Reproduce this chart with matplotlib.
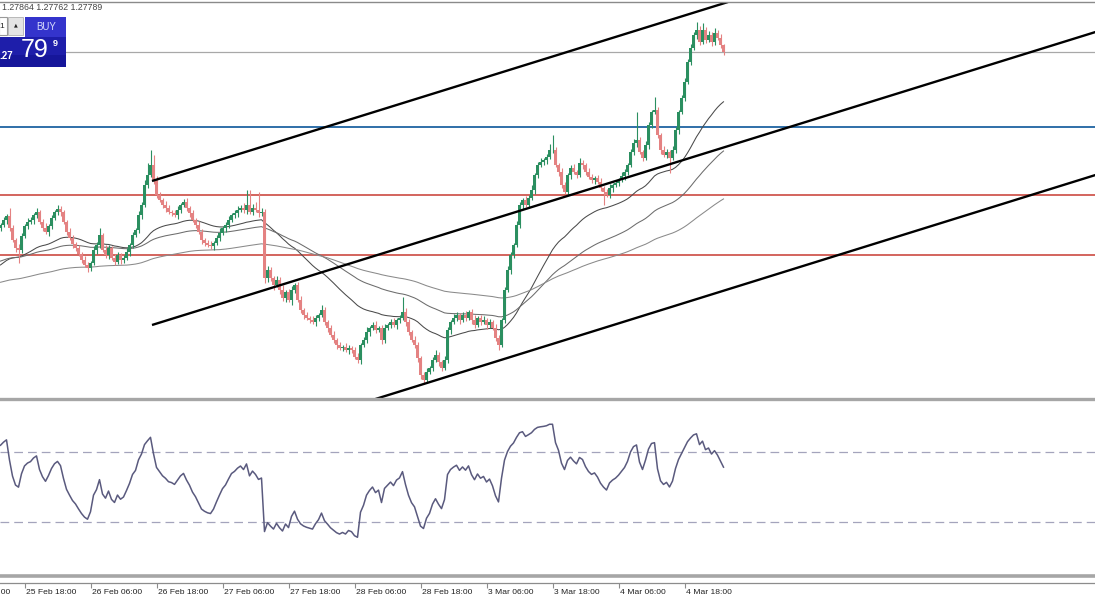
import numpy as np
import matplotlib
matplotlib.use("Agg")
import matplotlib.pyplot as plt
from matplotlib.patches import Rectangle
from matplotlib.lines import Line2D

plt.rcParams['font.family'] = ['Liberation Sans', 'DejaVu Sans']

W, H = 1095, 600

# closes in pips (price * 10000), one per bar
closes_pips = [
    12606, 12611, 12615, 12603, 12591, 12583, 12581, 12595, 12605, 12609,
    12611, 12616, 12619, 12609, 12603, 12599, 12605, 12613, 12619, 12622,
    12619, 12609, 12599, 12593, 12587, 12583, 12577, 12571, 12566, 12563,
    12568, 12581, 12586, 12596, 12581, 12576, 12583, 12573, 12569, 12576,
    12571, 12573, 12579, 12586, 12596, 12601, 12616, 12626, 12646, 12656,
    12666, 12651, 12636, 12631, 12626, 12623, 12619, 12618, 12616, 12621,
    12626, 12629, 12623, 12618, 12611, 12606, 12599, 12591, 12588, 12586,
    12585, 12588, 12593, 12598, 12603, 12606, 12611, 12616, 12618, 12621,
    12623, 12621, 12626, 12619, 12623, 12621, 12618, 12619, 12553, 12561,
    12553, 12546, 12551, 12541, 12533, 12539, 12531, 12541, 12546, 12531,
    12521, 12516, 12513, 12511, 12509, 12513, 12516, 12521, 12509, 12503,
    12496, 12491, 12486, 12483, 12484, 12481, 12483, 12481, 12474, 12471,
    12486, 12491, 12499, 12503, 12506, 12501, 12503, 12491, 12503, 12506,
    12509, 12506, 12511, 12513, 12519, 12509, 12499, 12491, 12486, 12473,
    12456, 12451, 12459, 12463, 12471, 12476, 12469, 12463, 12471, 12501,
    12509, 12513, 12516, 12511, 12516, 12513, 12519, 12511, 12506, 12513,
    12509, 12511, 12506, 12509, 12503, 12493, 12486, 12511, 12541, 12561,
    12576, 12586, 12606, 12626, 12631, 12626, 12633, 12641, 12656, 12666,
    12669, 12671, 12674, 12681, 12681, 12666, 12659, 12646, 12639, 12656,
    12663, 12659, 12656, 12668, 12666, 12659, 12654, 12651, 12653, 12649,
    12643, 12639, 12636, 12643, 12646, 12648, 12651, 12655, 12659, 12666,
    12679, 12688, 12691, 12679, 12673, 12686, 12706, 12719, 12721, 12696,
    12681, 12676, 12679, 12673, 12681, 12701, 12719, 12733, 12749, 12769,
    12783, 12796, 12801, 12789, 12801, 12791, 12796, 12789, 12798, 12793,
    12786, 12779,
]
first_open = 12603

# wick lengths above / below the body, in pips
wick_up = [
    2, 3, 2, 8, 3, 2, 4, 3, 2, 4,
    3, 2, 4, 2, 3, 5, 2, 3, 2, 4,
    3, 2, 2, 4, 3, 2, 3, 2, 4, 3,
    2, 4, 3, 7, 2, 5, 3, 2, 4, 3,
    2, 3, 4, 2, 3, 2, 4, 3, 5, 12,
    15, 10, 4, 3, 2, 4, 3, 2, 3, 4,
    2, 3, 4, 2, 3, 2, 4, 3, 2, 3,
    4, 2, 3, 5, 2, 3, 4, 2, 3, 4,
    3, 5, 15, 15, 4, 6, 18, 4, 3, 4,
    3, 2, 4, 3, 5, 2, 3, 4, 2, 3,
    4, 2, 3, 2, 4, 3, 2, 5, 3, 2,
    3, 4, 2, 3, 2, 4, 3, 2, 3, 4,
    2, 3, 5, 2, 3, 4, 2, 3, 4, 2,
    3, 4, 2, 3, 15, 4, 3, 2, 4, 3,
    2, 3, 4, 2, 3, 5, 3, 2, 4, 3,
    2, 4, 3, 2, 3, 4, 2, 3, 5, 2,
    3, 4, 2, 3, 2, 4, 3, 2, 3, 4,
    3, 2, 4, 3, 2, 4, 3, 5, 2, 3,
    4, 2, 3, 6, 15, 3, 2, 4, 3, 2,
    3, 4, 2, 5, 3, 2, 4, 3, 2, 3,
    4, 2, 3, 4, 2, 3, 2, 4, 3, 2,
    3, 4, 28, 3, 2, 4, 3, 2, 13, 3,
    2, 4, 3, 2, 4, 3, 2, 3, 4, 3,
    4, 3, 8, 4, 7, 3, 4, 3, 5, 3,
    4, 1,
]
wick_dn = [
    3, 2, 4, 3, 2, 4, 13, 3, 2, 3,
    2, 4, 3, 2, 3, 2, 4, 3, 2, 3,
    4, 2, 3, 2, 4, 3, 2, 3, 2, 4,
    3, 2, 4, 3, 2, 3, 4, 2, 3, 2,
    4, 3, 2, 4, 3, 2, 3, 4, 2, 3,
    2, 4, 3, 2, 3, 4, 2, 3, 2, 4,
    3, 2, 3, 4, 2, 3, 2, 4, 3, 2,
    3, 4, 2, 3, 2, 4, 3, 2, 3, 4,
    2, 3, 4, 2, 3, 2, 4, 3, 5, 4,
    3, 5, 2, 4, 3, 4, 2, 5, 3, 2,
    3, 4, 2, 3, 2, 4, 3, 2, 3, 4,
    2, 3, 4, 2, 3, 2, 4, 3, 2, 3,
    4, 2, 3, 4, 2, 3, 2, 4, 3, 2,
    3, 2, 4, 3, 2, 4, 3, 2, 3, 4,
    4, 4, 3, 2, 3, 2, 4, 3, 2, 3,
    4, 2, 3, 4, 2, 3, 2, 4, 3, 2,
    3, 2, 4, 3, 2, 3, 5, 2, 3, 2,
    4, 3, 2, 3, 4, 2, 3, 2, 4, 3,
    2, 3, 4, 2, 3, 2, 4, 3, 2, 3,
    4, 2, 3, 2, 4, 3, 2, 3, 4, 2,
    3, 13, 2, 3, 4, 2, 3, 2, 4, 3,
    2, 3, 4, 2, 3, 2, 4, 3, 2, 3,
    4, 2, 3, 15, 2, 3, 4, 2, 3, 2,
    3, 2, 4, 3, 2, 3, 2, 4, 3, 2,
    3, 3,
]

# drawn objects
level_blue = 1.2704
levels_red = [1.2636, 1.2576]
bid_price = 1.2779
channel_upper = [(50.5, 1.2650), (242.5, 1.2829)]
channel_mid = [(50.5, 1.2506), (365.0, 1.2799)]
channel_low = [(125.0, 1.2432), (365.0, 1.2656)]

# indicators
ema_periods = [40, 80, 160]
ema_seeds = [12564, 12569, 12548]
rsi_period = 14
rsi_seed_gain, rsi_seed_loss = 4.0, 1.5

time_labels = ["25 Feb 06:00", "25 Feb 18:00", "26 Feb 06:00", "26 Feb 18:00",
               "27 Feb 06:00", "27 Feb 18:00", "28 Feb 06:00", "28 Feb 18:00",
               "3 Mar 06:00", "3 Mar 18:00", "4 Mar 06:00", "4 Mar 18:00"]
time_label_bars = [-14, 8, 30, 52, 74, 96, 118, 140, 162, 184, 206, 228]

ohlc_text = "1.27864 1.27762 1.27789"


def ema(vals, n, seed):
    a = 2.0 / (n + 1)
    e = seed
    out = []
    for v in vals:
        e += a * (v - e)
        out.append(e)
    return np.array(out)


def rsi(vals, n, g, l, prev):
    out = []
    for v in vals:
        d = v - prev
        prev = v
        g = (g * (n - 1) + max(d, 0)) / n
        l = (l * (n - 1) + max(-d, 0)) / n
        out.append(100 - 100 / (1 + g / l))
    return np.array(out)


closes = np.array(closes_pips, dtype=float)
N = len(closes)
opens = np.concatenate([[first_open], closes[:-1]])
highs = np.maximum(opens, closes) + np.array(wick_up)
lows = np.minimum(opens, closes) - np.array(wick_dn)
idx = np.arange(N)

def fx(x):
    return x / W

def fy(y):
    return 1 - y / H

fig = plt.figure(figsize=(W / 100, H / 100), dpi=100, facecolor='white')

# x: bar i sits at pixel 3*i + 0.5
xlim = (-0.5 / 3, (W - 0.5) / 3)

ax1 = fig.add_axes([0, fy(398), 1, 396 / H])
ax1.set_xlim(*xlim)
ax1.set_ylim(1.2433, 1.2829)
ax1.axis('off')

up = closes >= opens
cols = np.where(up, '#2b8f60', '#e48282')
ax1.vlines(idx, lows / 1e4, highs / 1e4, colors=cols, lw=0.8, zorder=3)
ax1.bar(idx, np.maximum(np.abs(closes - opens), 0.5) / 1e4,
        bottom=np.minimum(opens, closes) / 1e4, width=0.72,
        color=cols, linewidth=0, zorder=3)

ma_cols = ['#4a4a4a', '#6c6c6c', '#8a8a8a']
for n, s, c in zip(ema_periods, ema_seeds, ma_cols):
    ax1.plot(idx, ema(closes, n, s) / 1e4, color=c, lw=0.75, zorder=2)

ax1.axhline(level_blue, color='#2f6fa8', lw=1.4, zorder=1)
for lv in levels_red:
    ax1.axhline(lv, color='#c83a32', lw=1.1, zorder=1)
ax1.axhline(bid_price, color='#a8a8a8', lw=0.9, zorder=1)

for ch in (channel_upper, channel_mid, channel_low):
    (x0, y0), (x1, y1) = ch
    ax1.plot([x0, x1], [y0, y1], color='black', lw=1.7, zorder=4,
             solid_capstyle='butt')

# RSI panel
ax2 = fig.add_axes([0, fy(576), 1, 176 / H])
ax2.set_xlim(*xlim)
ax2.set_ylim(-0.9, 99.7)
ax2.axis('off')
for lv in (70, 30):
    ax2.axhline(lv, color='#a4a4bc', lw=0.9, dashes=(7, 4))
ax2.plot(idx, rsi(closes, rsi_period, rsi_seed_gain, rsi_seed_loss, first_open),
         color='#5a5a7e', lw=1.1)

# time scale
ax3 = fig.add_axes([0, 0, 1, 17 / H])
ax3.set_xlim(*xlim)
ax3.set_ylim(0, 1)
for sp in ('left', 'right', 'bottom'):
    ax3.spines[sp].set_visible(False)
ax3.spines['top'].set_color('#8c8c8c')
ax3.spines['top'].set_linewidth(0.9)
ax3.set_yticks([])
ax3.set_xticks([b for b in time_label_bars if b >= 0])
ax3.xaxis.tick_top()
ax3.tick_params(axis='x', direction='in', length=3.5, color='#8c8c8c',
                labeltop=False, labelbottom=False)
for b, lab in zip(time_label_bars, time_labels):
    ax3.text(b + 0.4, 0.47, lab, fontsize=6.1, color='#222222',
             ha='left', va='center', clip_on=False)

# panel separators
for y, lw, c in [(2, 1.0, '#8a8a8a'), (398.8, 2.4, '#a6a6a6'),
                 (576.2, 2.6, '#a6a6a6')]:
    fig.add_artist(Line2D([0, 1], [fy(y), fy(y)], transform=fig.transFigure,
                          color=c, lw=lw, zorder=5))

# top-left info and trade panel
fig.text(fx(2), fy(8), ohlc_text, fontsize=6.3, color='#444444',
         ha='left', va='center', zorder=6)
fig.add_artist(Rectangle((fx(-1), fy(35)), fx(8), 18 / H, transform=fig.transFigure,
                         facecolor='white', edgecolor='#9a9a9a', lw=0.8, zorder=6))
fig.text(fx(2), fy(26), '1', fontsize=6, color='#222222', ha='center',
         va='center', zorder=7)
fig.add_artist(Rectangle((fx(8), fy(35)), fx(15), 18 / H, transform=fig.transFigure,
                         facecolor='#e4e4e4', edgecolor='#b0b0b0', lw=0.6, zorder=6))
fig.text(fx(15.5), fy(25), '\u25b2', fontsize=3.5, color='#222222', ha='center',
         va='center', zorder=7, family='DejaVu Sans')
fig.add_artist(Rectangle((fx(25), fy(37)), fx(41), 20 / H, transform=fig.transFigure,
                         facecolor='#3434cc', edgecolor='none', zorder=6))
fig.add_artist(Rectangle((fx(0), fy(67)), fx(66), 30 / H, transform=fig.transFigure,
                         facecolor='#1e1eaa', edgecolor='none', zorder=6))
fig.add_artist(Rectangle((fx(0), fy(67)), fx(66), 12 / H, transform=fig.transFigure,
                         facecolor='#16169a', edgecolor='none', zorder=6))
fig.text(fx(46), fy(27), 'BUY', fontsize=7, color='#d8defc', ha='center',
         va='center', zorder=7)
fig.text(fx(-1), fy(56), '.27', fontsize=7, color='white', ha='left',
         va='center', zorder=7, weight='bold')
fig.text(fx(35), fy(50), '79', fontsize=18, color='white', ha='center',
         va='center', zorder=7)
fig.text(fx(55), fy(44), '9', fontsize=6.5, color='white', ha='center',
         va='center', zorder=7, weight='bold')

fig.savefig('out.png', dpi=100, facecolor='white')
